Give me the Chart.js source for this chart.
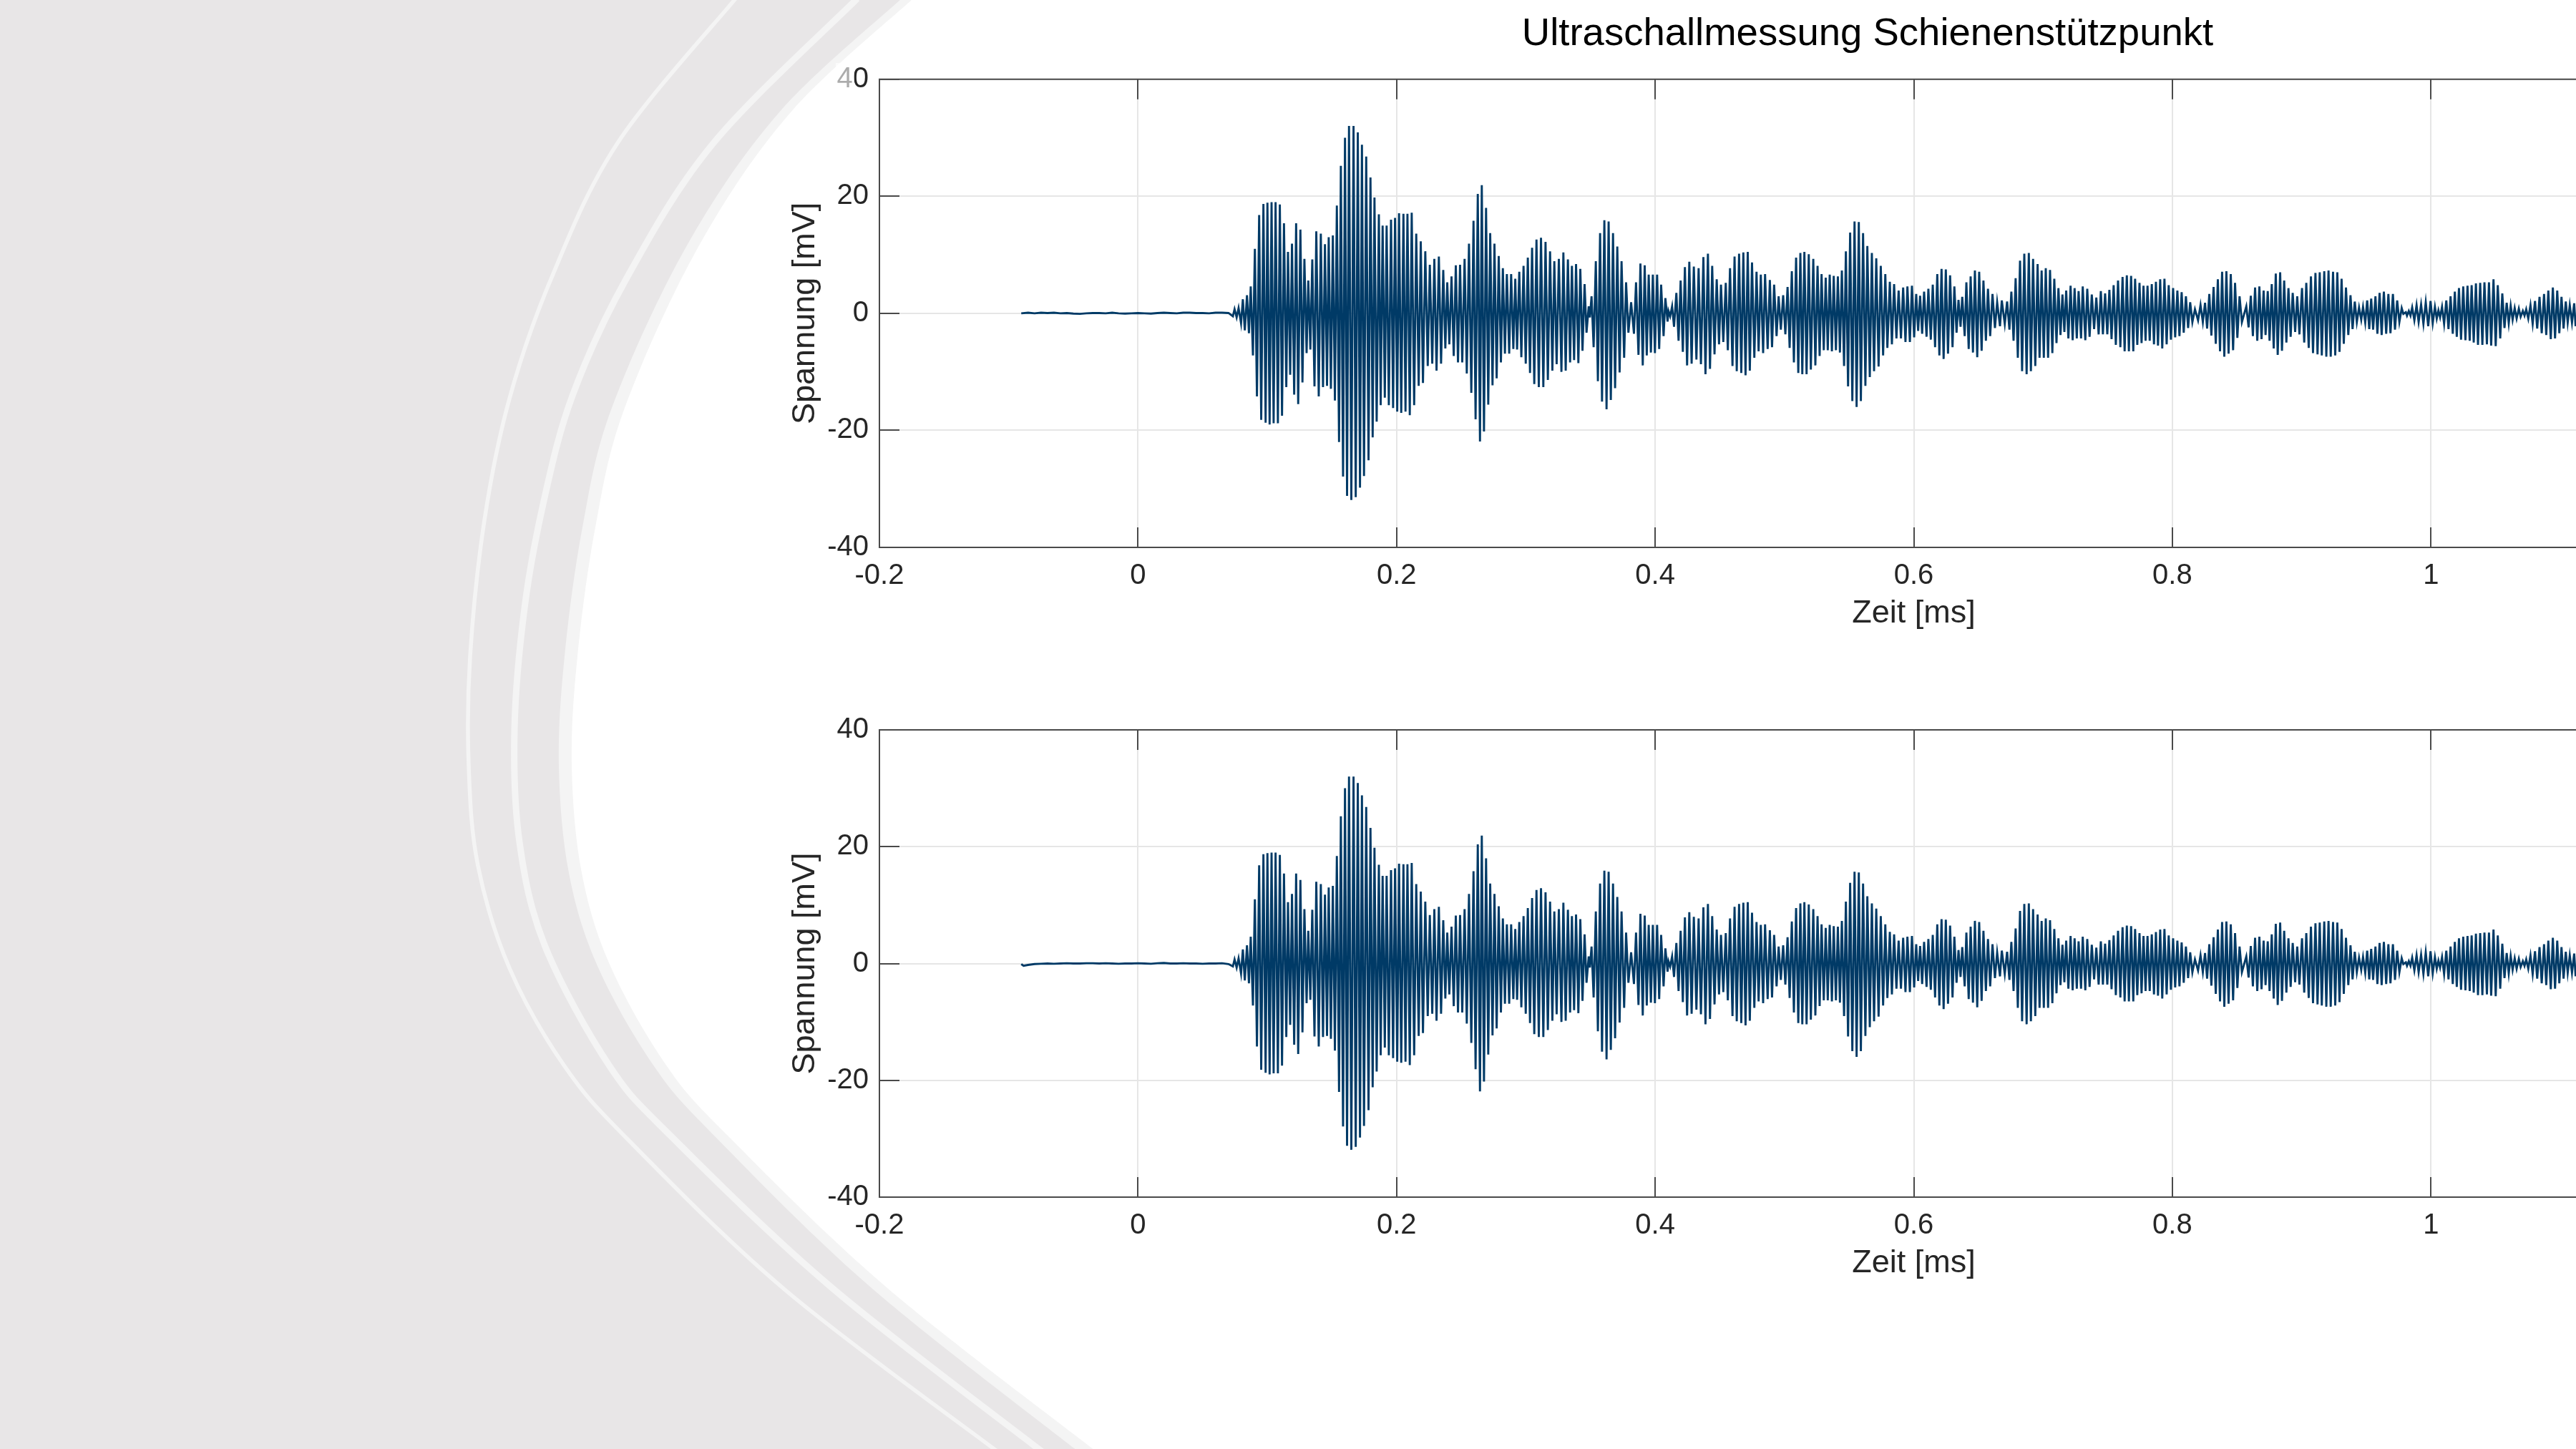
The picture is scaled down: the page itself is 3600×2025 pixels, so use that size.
<!DOCTYPE html>
<html lang="de">
<head>
<meta charset="utf-8">
<title>Ultraschallmessung Schienenstützpunkt</title>
<script src="https://cdn.jsdelivr.net/npm/chart.js@4"></script>
<style>
  html, body { margin: 0; width: 3600px; height: 2025px; overflow: hidden; background: #fff; }
  #bg { position: absolute; left: 0; top: 0; }
  canvas { position: absolute; }
  #title {
    position: absolute; left: 2010px; top: 13px; width: 1200px; text-align: center;
    font: 54.5px "Liberation Sans", Arial, sans-serif; color: #000; line-height: 64px;
  }
  #fade { position: absolute; left: 1168px; top: 88px; width: 26px; height: 44px; background: rgba(255,255,255,0.62); }
</style>
</head>
<body>
<svg id="bg" width="3600" height="2025" xmlns="http://www.w3.org/2000/svg"></svg>
<canvas id="upperChart" style="left:1000px;top:60px"></canvas>
<canvas id="lowerChart" style="left:1000px;top:970px"></canvas>
<div id="title">Ultraschallmessung Schienenstützpunkt</div>
<div id="fade"></div>
<script>
// Achsen
const xTickValues = [-0.2, 0, 0.2, 0.4, 0.6, 0.8, 1, 1.2, 1.4];
const yTickValues = [-40, -20, 0, 20, 40];

// Ruhephase vor dem Signal, oben und unten
const upperLeadTimes = [-0.0903, -0.085, -0.08, -0.075, -0.07, -0.065, -0.06, -0.055, -0.05, -0.045, -0.04, -0.035, -0.03, -0.025, -0.02, -0.015, -0.01, -0.005, 0, 0.005, 0.01, 0.015, 0.02, 0.025, 0.03, 0.035, 0.04, 0.045, 0.05, 0.055, 0.06, 0.065, 0.07];
const upperLeadValues = [0, 0.1, 0, 0.1, 0.05, 0.1, 0, 0.05, -0.05, -0.1, 0, 0.05, 0.05, 0, 0.1, 0, -0.05, 0, 0.05, 0, -0.05, 0.05, 0.1, 0.05, 0, 0.1, 0.1, 0.05, 0.05, 0, 0.1, 0.1, 0.05];
const lowerLeadTimes = [-0.0903, -0.0885, -0.085, -0.08, -0.075, -0.07, -0.065, -0.06, -0.055, -0.05, -0.045, -0.04, -0.035, -0.03, -0.025, -0.02, -0.015, -0.01, -0.005, 0, 0.005, 0.01, 0.015, 0.02, 0.025, 0.03, 0.035, 0.04, 0.045, 0.05, 0.055, 0.06, 0.065, 0.07];
const lowerLeadValues = [-0.1, -0.4, -0.25, -0.1, -0.05, 0, -0.05, 0, 0.05, 0, 0, 0.05, 0.05, 0, 0.05, 0, -0.05, 0, 0, 0.05, 0, -0.05, 0.05, 0.1, 0, 0, 0.05, 0, 0, -0.05, 0, 0, 0.05, -0.1];

// Obere Umkehrpunkte [ms]
const peakTimes = [
  0.0747, 0.0778, 0.0811, 0.0843, 0.0872, 0.0904, 0.0937, 0.0970, 0.1001, 0.1033,
  0.1064, 0.1097, 0.1129, 0.1160, 0.1191, 0.1223, 0.1256, 0.1287, 0.1317, 0.1348,
  0.1379, 0.1414, 0.1446, 0.1475, 0.1507, 0.1538, 0.1569, 0.1601, 0.1632, 0.1667,
  0.1700, 0.1732, 0.1765, 0.1798, 0.1829, 0.1863, 0.1892, 0.1923, 0.1957, 0.1988,
  0.2019, 0.2053, 0.2084, 0.2117, 0.2152, 0.2187, 0.2222, 0.2257, 0.2292, 0.2327,
  0.2361, 0.2392, 0.2425, 0.2458, 0.2491, 0.2526, 0.2560, 0.2595, 0.2628, 0.2659,
  0.2692, 0.2724, 0.2757, 0.2790, 0.2822, 0.2853, 0.2886, 0.2918, 0.2949, 0.2982,
  0.3015, 0.3048, 0.3082, 0.3117, 0.3152, 0.3187, 0.3220, 0.3255, 0.3290, 0.3325,
  0.3356, 0.3388, 0.3421, 0.3454, 0.3486, 0.3508, 0.3541, 0.3574,
  0.3607, 0.3640, 0.3674, 0.3707, 0.3740, 0.3775, 0.3814, 0.3852, 0.3886, 0.3919,
  0.3950, 0.3982, 0.4015, 0.4046, 0.4079, 0.4103, 0.4131, 0.4164, 0.4197, 0.4230,
  0.4264, 0.4299, 0.4336, 0.4373, 0.4408, 0.4441, 0.4476, 0.4509, 0.4546, 0.4579,
  0.4614, 0.4649, 0.4682, 0.4716, 0.4749, 0.4784, 0.4817, 0.4850, 0.4887, 0.4920,
  0.4955, 0.4990, 0.5024, 0.5057, 0.5090, 0.5123, 0.5154, 0.5188, 0.5223, 0.5256,
  0.5287, 0.5319, 0.5350, 0.5381, 0.5413, 0.5444, 0.5475, 0.5508, 0.5542, 0.5575,
  0.5608, 0.5641, 0.5676, 0.5710, 0.5745, 0.5780, 0.5815, 0.5848, 0.5883, 0.5918,
  0.5951, 0.5986, 0.6019, 0.6049, 0.6080,
  0.6113, 0.6147, 0.6182, 0.6215, 0.6248, 0.6281, 0.6314, 0.6346, 0.6375, 0.6407,
  0.6440, 0.6473, 0.6506, 0.6539, 0.6574, 0.6609, 0.6645, 0.6681, 0.6722, 0.6755,
  0.6788, 0.6822, 0.6855, 0.6890, 0.6923, 0.6958, 0.6989, 0.7021, 0.7054, 0.7087,
  0.7119, 0.7150, 0.7179, 0.7213, 0.7244, 0.7275, 0.7307, 0.7342, 0.7377, 0.7412,
  0.7447, 0.7480, 0.7513, 0.7546, 0.7580, 0.7615, 0.7648, 0.7681, 0.7712, 0.7746,
  0.7777, 0.7808, 0.7841, 0.7873, 0.7906, 0.7939, 0.7972, 0.8006, 0.8039, 0.8072,
  0.8105, 0.8138, 0.8175, 0.8218, 0.8253, 0.8286, 0.8319, 0.8352, 0.8385, 0.8418,
  0.8452, 0.8485, 0.8520, 0.8572,
  0.8607, 0.8640, 0.8673, 0.8706, 0.8738, 0.8769, 0.8800, 0.8834, 0.8865, 0.8898,
  0.8931, 0.8966, 0.9003, 0.9036, 0.9072, 0.9107, 0.9140, 0.9175, 0.9208, 0.9243,
  0.9276, 0.9309, 0.9343, 0.9378, 0.9411, 0.9444, 0.9475, 0.9507, 0.9538, 0.9571,
  0.9603, 0.9636, 0.9671, 0.9706, 0.9739, 0.9774, 0.9806, 0.9829, 0.9855, 0.9889,
  0.9924, 0.9960, 0.9997, 1.0031, 1.0058, 1.0086, 1.0119, 1.0152, 1.0185, 1.0217,
  1.0250, 1.0283, 1.0315, 1.0348, 1.0381, 1.0414, 1.0449, 1.0484, 1.0517, 1.0552,
  1.0586, 1.0617, 1.0648, 1.0680, 1.0711, 1.0737, 1.0770, 1.0805, 1.0840, 1.0875,
  1.0908, 1.0943, 1.0977, 1.1010, 1.1043, 1.1074, 1.1108
];

// Obere Umkehrpunkte [mV]
const peakValues = [
  0.7, 0.9, 2.4, 3.1, 4.6, 11, 16.8, 18.7, 18.9, 19,
  19, 18.6, 15.4, 10.5, 11.9, 15.4, 14.3, 9.3, 5.6, 9.2,
  14, 13.6, 11.8, 13, 13.3, 18.4, 25.2, 30, 32, 32,
  30.9, 28.8, 26.8, 23.2, 19.8, 16.9, 15, 15, 16, 16.3,
  17.1, 17, 17, 17.2, 13.6, 12.3, 10.6, 8.3, 9.3, 9.7,
  7.4, 5.3, 6.3, 8.2, 8.3, 9.3, 11.9, 15.8, 20.4, 21.9,
  18, 13.7, 11.9, 9.8, 7.7, 6.7, 6.7, 5.9, 7.1, 8.1,
  9.5, 11.2, 12.6, 12.9, 12.2, 10.6, 8.9, 9.3, 10.4, 9.2,
  8.1, 8.4, 7.6, 5, 1.2, 2.9, 8.9, 13.7,
  15.9, 15.7, 13.7, 11.4, 8.9, 5.3, 1.9, 5.3, 8.5, 8.2,
  6.6, 6.6, 6.6, 4.9, 2.6, 0.4, 1.2, 3.5, 5.6, 7.9,
  8.8, 8, 7.7, 9.6, 10.2, 8.1, 5.8, 4.9, 5.2, 7.7,
  9.7, 10.2, 10.4, 10.5, 8.7, 7.1, 6.6, 6.7, 5.7, 4.9,
  2.9, 3.1, 4.5, 7.2, 9.5, 10.3, 10.5, 10.1, 9.3, 8.1,
  6.7, 6.1, 6.6, 6.4, 6.3, 7.3, 10.6, 13.8, 15.7, 15.6,
  13.7, 11.5, 10.3, 9.4, 8.1, 6.7, 5.4, 5, 3.9, 4.4,
  4.6, 4.7, 3.3, 3, 3.7,
  4.2, 4.9, 6.7, 7.6, 7.5, 6.5, 4.6, 2.3, 2.8, 5.3,
  6.3, 7.3, 7.1, 5.6, 4.2, 3.3, 1.9, 2.2, 2, 3.7,
  6, 9, 10.2, 10.3, 9.3, 8.4, 7.3, 7.7, 7.4, 5.9,
  4.3, 3.2, 3.9, 4.7, 4.3, 3.8, 4.6, 4.2, 3.2, 2.7,
  3.8, 3.4, 4, 4.8, 5.6, 6.2, 6.5, 6.4, 5.9, 5.2,
  4.7, 4.7, 5, 5.4, 5.8, 5.9, 4.8, 4.3, 3.9, 3.6,
  2.9, 1.9, 0.7, 1.4, 1.8, 3.3, 4.5, 5.8, 7.1, 7.2,
  6.7, 5.2, 2.9, 1.2,
  3, 4.4, 4.6, 3.9, 3.8, 5, 6.8, 7, 5.6, 4.3,
  3.5, 2.9, 4.3, 5.2, 6.3, 6.9, 7, 7.2, 7.3, 7.1,
  7, 5.9, 4.4, 3.1, 2, 1, 1.1, 2.2, 2.5, 2.9,
  3.5, 3.7, 3.3, 3.3, 2.2, 0.9, 0.2, 0.4, 1, 1.4,
  1.5, 1.9, 2.1, 1.1, 0.5, 1.1, 2.2, 2.9, 3.7, 4.3,
  4.6, 4.7, 4.8, 5.1, 5.2, 5.3, 5.3, 5.8, 4.8, 3.4,
  1.8, 1.3, 0.9, 0.8, 0.4, 0.7, 1.4, 2.1, 2.8, 3.3,
  3.9, 4.4, 3.9, 2.8, 2, 1.4, 1.7
];

// Untere Umkehrpunkte [ms]
const troughTimes = [
  0.0734, 0.0763, 0.0797, 0.0826, 0.0858, 0.0889, 0.0920, 0.0953, 0.0987, 0.1018,
  0.1049, 0.1082, 0.1114, 0.1147, 0.1177, 0.1208, 0.1239, 0.1272, 0.1304, 0.1333,
  0.1365, 0.1398, 0.1431, 0.1462, 0.1492, 0.1523, 0.1555, 0.1586, 0.1617, 0.1650,
  0.1684, 0.1717, 0.1748, 0.1783, 0.1815, 0.1846, 0.1877, 0.1909, 0.1940, 0.1973,
  0.2005, 0.2036, 0.2069, 0.2102, 0.2136, 0.2171, 0.2204, 0.2241, 0.2276, 0.2309,
  0.2344, 0.2377, 0.2408, 0.2442, 0.2475, 0.2508, 0.2543, 0.2578, 0.2611, 0.2645,
  0.2676, 0.2709, 0.2742, 0.2774, 0.2807, 0.2838, 0.2871, 0.2903, 0.2932, 0.2965,
  0.2999, 0.3032, 0.3065, 0.3100, 0.3135, 0.3170, 0.3205, 0.3238, 0.3275, 0.3308,
  0.3342, 0.3373, 0.3406, 0.3438, 0.3469, 0.3495, 0.3524, 0.3557, 0.3589,
  0.3624, 0.3657, 0.3690, 0.3725, 0.3760, 0.3793, 0.3836, 0.3871, 0.3904, 0.3935,
  0.3967, 0.3998, 0.4031, 0.4065, 0.4096, 0.4116, 0.4146, 0.4181, 0.4214, 0.4247,
  0.4282, 0.4319, 0.4354, 0.4389, 0.4424, 0.4459, 0.4494, 0.4527, 0.4562, 0.4598,
  0.4631, 0.4666, 0.4699, 0.4732, 0.4767, 0.4800, 0.4835, 0.4870, 0.4904, 0.4939,
  0.4972, 0.5007, 0.5040, 0.5073, 0.5107, 0.5138, 0.5171, 0.5204, 0.5239, 0.5272,
  0.5304, 0.5335, 0.5367, 0.5398, 0.5429, 0.5461, 0.5492, 0.5525, 0.5558, 0.5591,
  0.5626, 0.5660, 0.5693, 0.5728, 0.5763, 0.5796, 0.5831, 0.5866, 0.5901, 0.5936,
  0.5970, 0.6003, 0.6034, 0.6065,
  0.6099, 0.6132, 0.6165, 0.6198, 0.6231, 0.6265, 0.6300, 0.6331, 0.6362, 0.6394,
  0.6425, 0.6458, 0.6491, 0.6525, 0.6558, 0.6591, 0.6628, 0.6667, 0.6704, 0.6740,
  0.6772, 0.6805, 0.6838, 0.6873, 0.6906, 0.6940, 0.6973, 0.7006, 0.7039, 0.7072,
  0.7104, 0.7135, 0.7165, 0.7196, 0.7229, 0.7261, 0.7294, 0.7327, 0.7360, 0.7395,
  0.7430, 0.7463, 0.7497, 0.7530, 0.7563, 0.7598, 0.7631, 0.7664, 0.7698, 0.7729,
  0.7762, 0.7793, 0.7825, 0.7858, 0.7889, 0.7922, 0.7956, 0.7989, 0.8022, 0.8055,
  0.8088, 0.8122, 0.8155, 0.8199, 0.8236, 0.8269, 0.8302, 0.8336, 0.8369, 0.8402,
  0.8435, 0.8470, 0.8503, 0.8538,
  0.8590, 0.8623, 0.8657, 0.8690, 0.8721, 0.8752, 0.8784, 0.8815, 0.8848, 0.8882,
  0.8915, 0.8950, 0.8983, 0.9020, 0.9055, 0.9088, 0.9123, 0.9156, 0.9191, 0.9225,
  0.9260, 0.9293, 0.9326, 0.9361, 0.9394, 0.9427, 0.9461, 0.9492, 0.9523, 0.9553,
  0.9586, 0.9619, 0.9654, 0.9687, 0.9722, 0.9756, 0.9787, 0.9815, 0.9842, 0.9872,
  0.9905, 0.9942, 0.9979, 1.0014, 1.0045, 1.0071, 1.0102, 1.0136, 1.0169, 1.0200,
  1.0233, 1.0267, 1.0300, 1.0331, 1.0364, 1.0398, 1.0433, 1.0466, 1.0501, 1.0536,
  1.0569, 1.0602, 1.0632, 1.0663, 1.0694, 1.0724, 1.0753, 1.0787, 1.0822, 1.0857,
  1.0892, 1.0927, 1.0960, 1.0993, 1.1026, 1.1058, 1.1091, 1.1119
];

// Untere Umkehrpunkte [mV]
const troughValues = [
  -0.5, -0.7, -1.7, -2.9, -3.4, -7.2, -14.2, -18.2, -18.7, -19,
  -18.8, -18.8, -17.5, -12.6, -10.5, -13.9, -15.5, -11.8, -6.8, -6.2,
  -12.5, -14.2, -12.6, -12.4, -12.9, -14.9, -22, -27.9, -31.2, -31.9,
  -31.4, -29.8, -27.8, -25.1, -21.2, -18.5, -15.7, -14.4, -15.7, -16.2,
  -16.8, -17, -16.8, -17.4, -15.7, -12.4, -11.9, -9, -8.6, -9.8,
  -8.6, -6, -5.3, -7.3, -8.4, -8.4, -10.3, -13.6, -18.1, -21.9,
  -20.2, -15.6, -12.3, -11.1, -8.4, -6.9, -6.9, -6.1, -6.2, -7.5,
  -8.6, -10.2, -12.1, -12.6, -12.6, -11.4, -9.8, -8.7, -10, -9.8,
  -8.4, -8, -8.5, -6.4, -3.3, -0.7, -5.8, -11.6, -15.1,
  -16.4, -14.8, -12.8, -10.1, -7.6, -3.3, -3.5, -7.1, -8.9, -7.2,
  -6.7, -6.8, -6.1, -3.9, -1.4, -0.5, -2.3, -4.7, -6.6, -8.9,
  -8.6, -7.9, -8.7, -10.4, -9.5, -7, -5.3, -4.9, -6.3, -9,
  -9.9, -10.2, -10.6, -9.8, -7.6, -6.5, -6.8, -6.1, -5.8, -3.9,
  -2.8, -3.6, -5.9, -8.4, -10.2, -10.4, -10.4, -9.6, -8.9, -7.3,
  -6.3, -6.3, -6.5, -6.3, -6.7, -9, -12.5, -15, -16, -15,
  -12.4, -10.9, -9.9, -9.1, -7.2, -5.9, -5.3, -4.3, -4.3, -4.9,
  -4.9, -4.1, -3, -3.5,
  -4, -4.5, -5.8, -7.2, -7.8, -6.9, -5.8, -3.3, -2.3, -3.9,
  -6.1, -6.7, -7.5, -6.4, -4.7, -3.9, -2.5, -2.2, -1.8, -2.8,
  -4.7, -7.6, -9.9, -10.4, -9.9, -9, -7.6, -7.6, -7.6, -6.8,
  -5.1, -3.7, -3.2, -4.3, -4.6, -4.3, -4.3, -4.6, -4, -2.7,
  -3.6, -3.6, -3.6, -4.4, -5.4, -5.8, -6.5, -6.5, -6.5, -5.4,
  -5.1, -4.7, -4.7, -5.3, -5.5, -6, -5.3, -4.5, -4.1, -3.9,
  -3.3, -2.5, -1.5, -1.2, -1.5, -2.6, -3.8, -5.2, -6.5, -7.4,
  -6.9, -6.3, -4.2, -1.5,
  -2.4, -3.9, -4.7, -4.4, -3.7, -4.7, -6, -7.1, -6.4, -5,
  -4, -3.2, -3.6, -5, -5.9, -6.8, -7, -7.2, -7.4, -7.4,
  -7.2, -6.6, -5.2, -3.7, -2.7, -1.5, -1.1, -1.6, -2.7, -2.8,
  -3.5, -3.7, -3.5, -3.4, -2.8, -1.5, -0.1, -0.4, -0.4, -1.2,
  -1.5, -1.8, -2.2, -1.7, -0.9, -0.7, -1.8, -2.7, -3.5, -4,
  -4.5, -4.6, -4.7, -5, -5.4, -5.4, -5.3, -5.5, -5.6, -4.3,
  -2.5, -1.7, -1.1, -0.9, -0.6, -0.4, -0.9, -1.8, -2.6, -3.4,
  -3.7, -4.4, -4.3, -3.4, -2.6, -1.6, -1.6, -2.2
];

// Hintergrund der Folie: x, y, Breite des hellen Bands
const innerEdge = [[1276,-2,16],[1105,157,16],[977,343,17],[873,570,18],[832,737,18],[807,917,18],[799,1070,18],[813,1220,18],[853,1350,18],[932,1490,18],[1020,1590,19],[1240,1800,22],[1534,2030,25]];
const middleLine = [[1198,-2],[997,200],[875,390],[800,553],[760,700],[733,850],[719,1020],[726,1177],[762,1323],[852,1490],[940,1590],[1163,1800],[1458,2030]];
const outerLine = [[1028,-2],[863,200],[770,390],[712,557],[677,727],[657,917],[655,1070],[668,1210],[712,1353],[789,1490],[880,1595],[1100,1805],[1396,2030]];

function smoothPath(pts) {
  let d = 'M' + pts[0][0] + ' ' + pts[0][1];
  for (let i = 0; i < pts.length - 1; i++) {
    const p0 = pts[Math.max(i - 1, 0)], p1 = pts[i], p2 = pts[i + 1], p3 = pts[Math.min(i + 2, pts.length - 1)];
    d += ' C' + (p1[0] + (p2[0] - p0[0]) / 6) + ' ' + (p1[1] + (p2[1] - p0[1]) / 6) + ' ' +
      (p2[0] - (p3[0] - p1[0]) / 6) + ' ' + (p2[1] - (p3[1] - p1[1]) / 6) + ' ' + p2[0] + ' ' + p2[1];
  }
  return d;
}

const bandEdge = innerEdge.map(p => [p[0] - p[2], p[1]]);

document.getElementById('bg').innerHTML =
  '<rect width="3600" height="2025" fill="#e8e6e7"/>' +
  '<path d="' + smoothPath(outerLine) + '" fill="none" stroke="#f4f4f4" stroke-width="5.5"/>' +
  '<path d="' + smoothPath(middleLine) + '" fill="none" stroke="#f4f4f4" stroke-width="9"/>' +
  '<path d="' + smoothPath(bandEdge) + ' L3700 2030 L3700 -2 Z" fill="#f4f4f4"/>' +
  '<path d="' + smoothPath(innerEdge) + ' L3700 2030 L3700 -2 Z" fill="#fff"/>';

// Kastenrahmen und nach innen zeigende Striche wie in MATLAB
const innerTicks = {
  id: 'innerTicks',
  afterDraw(chart) {
    const { ctx, chartArea: a, scales } = chart;
    ctx.save();
    ctx.strokeStyle = '#4a4a4a';
    ctx.lineWidth = 2;
    ctx.beginPath();
    xTickValues.forEach(v => {
      const x = Math.round(scales.x.getPixelForValue(v));
      ctx.moveTo(x, a.bottom); ctx.lineTo(x, a.bottom - 28);
      ctx.moveTo(x, a.top); ctx.lineTo(x, a.top + 28);
    });
    yTickValues.forEach(v => {
      const y = Math.round(scales.y.getPixelForValue(v));
      ctx.moveTo(a.left, y); ctx.lineTo(a.left + 28, y);
    });
    ctx.rect(a.left, a.top, a.right - a.left, a.bottom - a.top);
    ctx.stroke();
    ctx.restore();
  }
};

function buildSeries(leadTimes, leadValues) {
  const lead = leadTimes.map((t, i) => ({ x: t, y: leadValues[i] }));
  const peaks = peakTimes.map((t, i) => ({ x: t, y: peakValues[i] }));
  const troughs = troughTimes.map((t, i) => ({ x: t, y: troughValues[i] }));
  return lead.concat(peaks, troughs).sort((a, b) => a.x - b.x);
}

function makeChart(id, leadTimes, leadValues, plotHeight, topPad) {
  const canvas = document.getElementById(id);
  canvas.width = 3200;
  canvas.height = topPad + plotHeight + 120;
  const tickFont = { family: '"Liberation Sans", Arial, sans-serif', size: 40 };
  const labelFont = { family: '"Liberation Sans", Arial, sans-serif', size: 45 };
  return new Chart(canvas, {
    type: 'line',
    data: {
      datasets: [{
        data: buildSeries(leadTimes, leadValues),
        borderColor: '#003a66',
        borderWidth: 2.9,
        pointRadius: 0,
        tension: 0,
        fill: false
      }]
    },
    options: {
      responsive: false,
      animation: false,
      layout: { padding: { left: 0, right: 80, top: topPad, bottom: 0 } },
      plugins: { legend: { display: false }, tooltip: { enabled: false }, title: { display: false } },
      scales: {
        x: {
          type: 'linear',
          min: -0.2,
          max: 1.4,
          afterBuildTicks: s => { s.ticks = xTickValues.map(value => ({ value })); },
          afterFit: s => { s.height = 120; },
          border: { display: false },
          grid: { color: '#e6e6e6', lineWidth: 2, drawTicks: false },
          ticks: {
            font: tickFont, color: '#262626', padding: 16, maxRotation: 0, autoSkip: false,
            callback: v => String(+v.toFixed(1))
          },
          title: { display: true, text: 'Zeit [ms]', font: labelFont, color: '#262626', padding: { top: 0, bottom: 0 } }
        },
        y: {
          type: 'linear',
          min: -40,
          max: 40,
          afterBuildTicks: s => { s.ticks = yTickValues.map(value => ({ value })); },
          afterFit: s => { s.width = 229; },
          border: { display: false },
          grid: { color: '#e6e6e6', lineWidth: 2, drawTicks: false },
          ticks: { font: tickFont, color: '#262626', padding: 15, autoSkip: false },
          title: { display: true, text: 'Spannung [mV]', font: labelFont, color: '#262626', padding: { top: 99, bottom: 0 } }
        }
      }
    },
    plugins: [innerTicks]
  });
}

makeChart('upperChart', upperLeadTimes, upperLeadValues, 655, 50.7);
makeChart('lowerChart', lowerLeadTimes, lowerLeadValues, 653.5, 50);
</script>
</body>
</html>
